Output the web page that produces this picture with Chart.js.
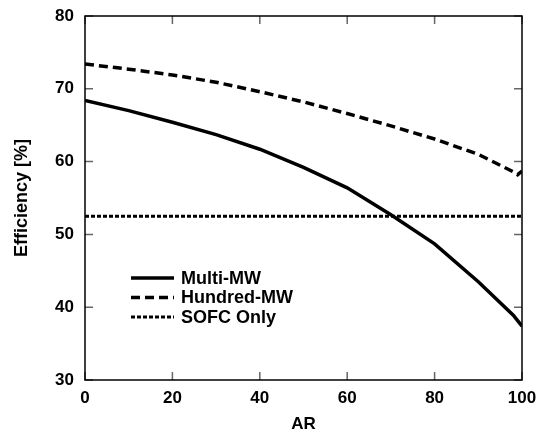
<!DOCTYPE html>
<html>
<head>
<meta charset="utf-8">
<script src="https://cdn.jsdelivr.net/npm/chart.js@4/dist/chart.umd.min.js"></script>
<style>
  html, body { margin: 0; padding: 0; background: #fff; }
  #wrap { width: 544px; height: 435px; position: relative; }
</style>
</head>
<body>
<div id="wrap"><canvas id="effChart"></canvas></div>
<script>
// Dữ liệu
const arValues = [0, 10, 20, 30, 40, 50, 60, 70, 80, 90, 98, 100];
const multiMW = [68.4, 67.0, 65.4, 63.7, 61.7, 59.2, 56.4, 52.7, 48.7, 43.5, 38.9, 37.4];

const arHundred = [0, 10, 20, 30, 40, 50, 60, 70, 80, 90, 98, 99, 100];
const hundredMW = [73.4, 72.7, 71.9, 70.9, 69.6, 68.2, 66.6, 64.9, 63.1, 61.0, 58.6, 58.2, 58.7];

const arSofc = [0, 100];
const sofcOnly = [52.5, 52.5];

const seriesLabels = ["Multi-MW", "Hundred-MW", "SOFC Only"];
const xTicks = [0, 20, 40, 60, 80, 100];
const yTicks = [30, 40, 50, 60, 70, 80];

const FONT = "'Liberation Sans', Arial, sans-serif";

function toPoints(xs, ys) {
  return xs.map((x, i) => ({ x: x, y: ys[i] }));
}

// Khung và vạch chia hướng vào trong (4 cạnh)
const framePlugin = {
  id: "frame",
  afterDatasetsDraw(chart) {
    const { ctx, chartArea: a, scales } = chart;
    ctx.save();
    ctx.strokeStyle = "#666";
    ctx.lineWidth = 1.5;
    const len = 8;
    xTicks.forEach((v) => {
      const px = scales.x.getPixelForValue(v);
      ctx.beginPath();
      ctx.moveTo(px, a.bottom); ctx.lineTo(px, a.bottom - len);
      ctx.moveTo(px, a.top); ctx.lineTo(px, a.top + len);
      ctx.stroke();
    });
    yTicks.forEach((v) => {
      const py = scales.y.getPixelForValue(v);
      ctx.beginPath();
      ctx.moveTo(a.left, py); ctx.lineTo(a.left + len, py);
      ctx.moveTo(a.right, py); ctx.lineTo(a.right - len, py);
      ctx.stroke();
    });
    ctx.strokeStyle = "#000";
    ctx.lineWidth = 1.5;
    ctx.strokeRect(a.left, a.top, a.right - a.left, a.bottom - a.top);
    ctx.restore();
  },
};

// Chú thích vẽ bên trong vùng biểu đồ
const legendPlugin = {
  id: "innerLegend",
  afterDraw(chart) {
    const { ctx, chartArea: a } = chart;
    const x0 = a.left + 46;
    const x1 = a.left + 89;
    const rows = [278, 297.5, 317];
    ctx.save();
    chart.data.datasets.forEach((ds, i) => {
      const y = rows[i];
      ctx.strokeStyle = ds.borderColor;
      ctx.lineWidth = ds.borderWidth;
      ctx.setLineDash(ds.borderDash || []);
      ctx.beginPath();
      ctx.moveTo(x0, y);
      ctx.lineTo(x1, y);
      ctx.stroke();
      ctx.setLineDash([]);
      ctx.fillStyle = "#000";
      ctx.font = "bold 18px " + FONT;
      ctx.textBaseline = "middle";
      ctx.textAlign = "left";
      ctx.fillText(ds.label, x1 + 7, y + 1);
    });
    ctx.restore();
  },
};

new Chart(document.getElementById("effChart").getContext("2d"), {
  type: "line",
  data: {
    datasets: [
      {
        label: seriesLabels[0],
        data: toPoints(arValues, multiMW),
        borderColor: "#000",
        borderWidth: 3.5,
        pointRadius: 0,
        tension: 0,
      },
      {
        label: seriesLabels[1],
        data: toPoints(arHundred, hundredMW),
        borderColor: "#000",
        borderWidth: 3.5,
        borderDash: [9, 5],
        pointRadius: 0,
        tension: 0,
      },
      {
        label: seriesLabels[2],
        data: toPoints(arSofc, sofcOnly),
        borderColor: "#000",
        borderWidth: 3,
        borderDash: [4, 2],
        pointRadius: 0,
        tension: 0,
      },
    ],
  },
  options: {
    responsive: true,
    maintainAspectRatio: false,
    animation: false,
    layout: { padding: { top: 16, right: 22, left: 0, bottom: 0 } },
    plugins: {
      legend: { display: false },
      tooltip: { enabled: false },
    },
    scales: {
      x: {
        type: "linear",
        min: 0,
        max: 100,
        afterBuildTicks: (s) => { s.ticks = xTicks.map((v) => ({ value: v })); },
        afterFit: (s) => {
          s.height = 55;
          s.paddingLeft = 0;
          s.paddingRight = 0;
        },
        grid: { display: false, drawTicks: false },
        border: { display: false },
        ticks: {
          color: "#000",
          padding: 8,
          maxRotation: 0,
          font: { family: FONT, size: 17, weight: "bold" },
        },
        title: {
          display: true,
          text: "AR",
          color: "#000",
          padding: { top: 0, bottom: 0 },
          font: { family: FONT, size: 17, weight: "bold" },
        },
      },
      y: {
        min: 30,
        max: 80,
        afterBuildTicks: (s) => { s.ticks = yTicks.map((v) => ({ value: v })); },
        afterFit: (s) => {
          s.width = 85;
          s.paddingTop = 0;
          s.paddingBottom = 0;
        },
        grid: { display: false, drawTicks: false },
        border: { display: false },
        ticks: {
          color: "#000",
          padding: 11,
          font: { family: FONT, size: 17, weight: "bold" },
        },
        title: {
          display: true,
          text: "Efficiency [%]",
          color: "#000",
          padding: { top: 11, bottom: 0 },
          font: { family: FONT, size: 18, weight: "bold" },
        },
      },
    },
  },
  plugins: [framePlugin, legendPlugin],
});
</script>
</body>
</html>
